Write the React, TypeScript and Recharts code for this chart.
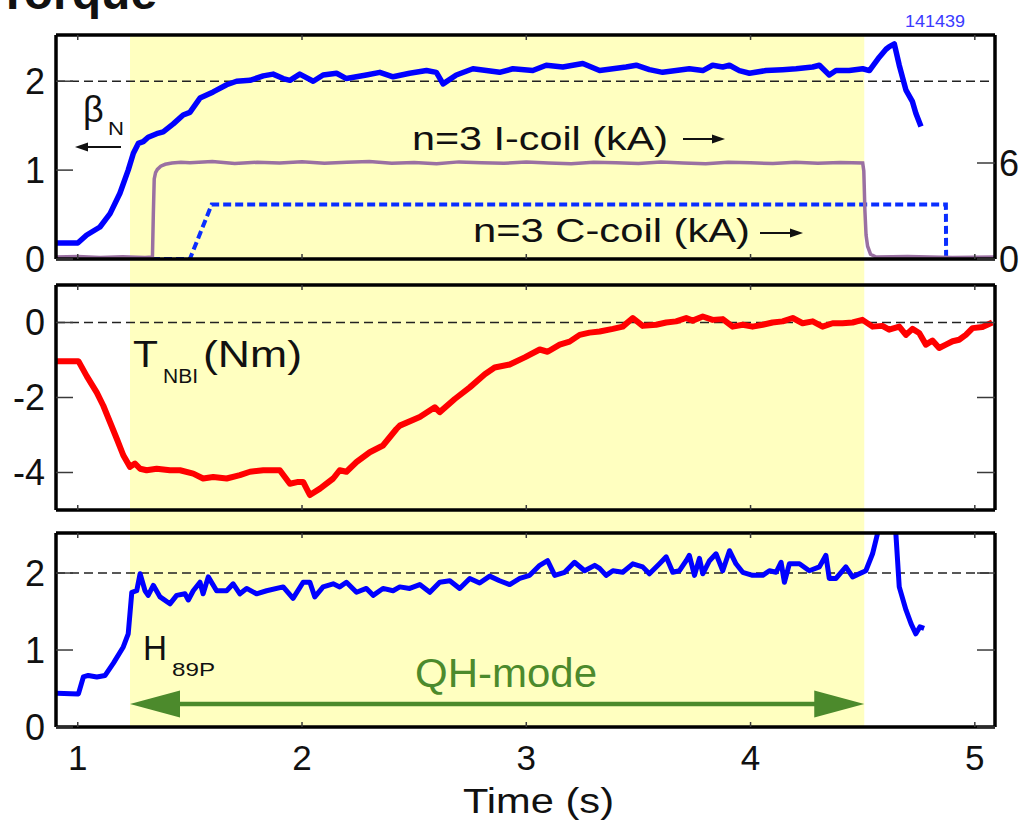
import React from 'react';
import { LineChart, Line, XAxis, YAxis, ReferenceArea, ReferenceLine } from 'recharts';

const W = 1025;
const H = 822;
const FONT = '"Liberation Sans", Arial, Helvetica, sans-serif';
const INK = '#111';
const TICK = '#3a3a3a';
const YELLOW = '#ffffc0';
const GREEN = '#4c8a2c';

type Pt = [number, number];

// time axis (s) and QH-mode window
const timeDomain: [number, number] = [0.903, 5.09];
const timeTicks = [1, 2, 3, 4, 5];
const qhMode: [number, number] = [1.233, 4.507];

// y scales
const betaDomain: [number, number] = [0, 2.52];
const betaTicks = [0, 1, 2];
const coilDomain: [number, number] = [0, 14];
const coilTicks = [0, 6];
const torqueDomain: [number, number] = [-5, 1];
const torqueTicks = [-4, -2, 0];
const hDomain: [number, number] = [0, 2.52];
const hTicks = [0, 1, 2];

// beta_N (left axis, top panel)
const betaN: Pt[] = [
  [0.903, 0.18], [1.0, 0.18], [1.04, 0.27], [1.099, 0.36], [1.144, 0.51], [1.188, 0.74], [1.225, 1.0],
  [1.248, 1.19], [1.27, 1.3], [1.292, 1.32], [1.314, 1.37], [1.352, 1.41], [1.381, 1.43], [1.426, 1.52],
  [1.47, 1.62], [1.5, 1.65], [1.545, 1.81], [1.604, 1.88], [1.664, 1.96], [1.708, 2.0], [1.768, 2.01],
  [1.827, 2.06], [1.871, 2.08], [1.916, 2.03], [1.946, 2.01], [1.99, 2.08], [2.05, 2.0], [2.094, 2.07],
  [2.154, 2.09], [2.198, 2.03], [2.287, 2.07], [2.347, 2.1], [2.406, 2.05], [2.48, 2.09], [2.555, 2.12],
  [2.599, 2.1], [2.629, 1.97], [2.688, 2.07], [2.762, 2.14], [2.822, 2.12], [2.881, 2.1], [2.94, 2.14],
  [3.029, 2.12], [3.089, 2.18], [3.163, 2.16], [3.252, 2.2], [3.327, 2.12], [3.386, 2.14], [3.445, 2.16],
  [3.49, 2.18], [3.549, 2.13], [3.608, 2.1], [3.668, 2.12], [3.727, 2.14], [3.787, 2.12], [3.831, 2.18],
  [3.876, 2.16], [3.906, 2.18], [3.95, 2.12], [3.995, 2.09], [4.069, 2.12], [4.143, 2.13], [4.203, 2.14],
  [4.277, 2.16], [4.307, 2.18], [4.351, 2.07], [4.381, 2.12], [4.41, 2.12], [4.44, 2.12], [4.5, 2.14],
  [4.53, 2.12], [4.574, 2.27], [4.604, 2.36], [4.619, 2.39], [4.641, 2.42], [4.663, 2.18], [4.693, 1.9],
  [4.722, 1.77], [4.737, 1.64], [4.76, 1.49],
];

// n=3 I-coil current, kA (right axis)
const iCoil: Pt[] = [
  [0.903, 0.12], [1.0, 0.15], [1.1, 0.1], [1.2, 0.14], [1.3, 0.1], [1.333, 0.12], [1.337, 2.8],
  [1.341, 5.0], [1.347, 5.4], [1.355, 5.6], [1.37, 5.8], [1.39, 5.92], [1.42, 6.0], [1.46, 6.05],
  [1.5, 6.02], [1.6, 6.1], [1.7, 5.97], [1.8, 6.05], [1.9, 6.0], [2.0, 6.08], [2.1, 5.98], [2.2, 6.04],
  [2.3, 6.1], [2.4, 5.99], [2.5, 6.03], [2.6, 5.96], [2.7, 6.07], [2.8, 6.01], [2.9, 5.98], [3.0, 6.06],
  [3.1, 6.0], [3.2, 5.95], [3.3, 6.05], [3.4, 6.02], [3.5, 5.97], [3.6, 6.06], [3.7, 6.0], [3.8, 5.96],
  [3.9, 6.04], [4.0, 6.01], [4.1, 5.97], [4.2, 6.05], [4.3, 5.99], [4.4, 6.03], [4.5, 6.0], [4.505, 5.5],
  [4.51, 3.0], [4.515, 1.5], [4.522, 0.8], [4.535, 0.3], [4.56, 0.12], [4.7, 0.15], [4.9, 0.1], [5.09, 0.12],
];

// n=3 C-coil current, kA (right axis)
const cCoil: Pt[] = [
  [0.903, 0], [1.5, 0], [1.597, 3.4], [4.871, 3.4], [4.872, 0],
];

// T_NBI, Nm
const torque: Pt[] = [
  [0.906, -1.03], [1.003, -1.03], [1.04, -1.43], [1.085, -1.87], [1.114, -2.22], [1.144, -2.66],
  [1.174, -3.1], [1.203, -3.54], [1.233, -3.85], [1.255, -3.76], [1.278, -3.9], [1.307, -3.94],
  [1.352, -3.9], [1.411, -3.94], [1.456, -3.94], [1.515, -4.03], [1.559, -4.16], [1.604, -4.12],
  [1.664, -4.16], [1.723, -4.07], [1.768, -3.98], [1.827, -3.94], [1.901, -3.94], [1.946, -4.3],
  [1.983, -4.25], [2.005, -4.25], [2.035, -4.6], [2.08, -4.43], [2.139, -4.16], [2.168, -3.94],
  [2.198, -3.98], [2.243, -3.72], [2.302, -3.46], [2.361, -3.28], [2.421, -2.84], [2.436, -2.75],
  [2.525, -2.52], [2.592, -2.26], [2.614, -2.39], [2.681, -2.04], [2.748, -1.73], [2.815, -1.38],
  [2.859, -1.2], [2.926, -1.12], [2.993, -0.93], [3.06, -0.72], [3.095, -0.78], [3.149, -0.59],
  [3.193, -0.51], [3.238, -0.33], [3.282, -0.27], [3.327, -0.24], [3.386, -0.17], [3.43, -0.11],
  [3.475, 0.12], [3.519, -0.09], [3.579, -0.06], [3.624, 0], [3.668, 0.03], [3.713, 0.12], [3.742, 0.05],
  [3.787, 0.16], [3.831, 0.07], [3.876, 0.09], [3.92, -0.11], [3.965, -0.06], [4.009, -0.11],
  [4.054, -0.06], [4.098, 0], [4.143, 0.03], [4.188, 0.12], [4.232, -0.02], [4.277, 0.03], [4.321, -0.11],
  [4.366, -0.02], [4.41, -0.02], [4.455, 0], [4.499, 0.07], [4.544, -0.11], [4.588, -0.09], [4.618, -0.19],
  [4.663, -0.11], [4.693, -0.33], [4.722, -0.17], [4.752, -0.28], [4.782, -0.59], [4.811, -0.48],
  [4.841, -0.68], [4.871, -0.59], [4.901, -0.5], [4.93, -0.46], [4.96, -0.33], [4.99, -0.15],
  [5.034, -0.12], [5.078, 0],
];

// H_89P
const h89p: Pt[] = [
  [0.906, 0.44], [1.003, 0.43], [1.025, 0.65], [1.047, 0.67], [1.085, 0.65], [1.122, 0.67], [1.159, 0.83],
  [1.203, 1.04], [1.225, 1.21], [1.241, 1.75], [1.263, 1.77], [1.278, 1.99], [1.3, 1.77], [1.314, 1.71],
  [1.337, 1.84], [1.367, 1.69], [1.411, 1.6], [1.441, 1.71], [1.478, 1.73], [1.493, 1.65], [1.515, 1.77],
  [1.545, 1.88], [1.559, 1.73], [1.582, 1.95], [1.619, 1.77], [1.664, 1.77], [1.693, 1.86], [1.723, 1.73],
  [1.753, 1.8], [1.797, 1.73], [1.842, 1.77], [1.916, 1.82], [1.96, 1.67], [2.005, 1.88], [2.035, 1.88],
  [2.057, 1.69], [2.094, 1.82], [2.139, 1.86], [2.168, 1.82], [2.198, 1.88], [2.243, 1.75], [2.287, 1.8],
  [2.317, 1.71], [2.361, 1.8], [2.406, 1.77], [2.436, 1.82], [2.48, 1.8], [2.525, 1.85], [2.57, 1.75],
  [2.614, 1.88], [2.659, 1.9], [2.703, 1.8], [2.748, 1.93], [2.792, 1.87], [2.837, 1.96], [2.881, 1.9],
  [2.926, 1.85], [2.971, 1.93], [3.015, 1.97], [3.06, 2.1], [3.095, 2.16], [3.127, 1.97], [3.171, 2.01],
  [3.215, 2.14], [3.26, 2.03], [3.305, 2.1], [3.327, 2.06], [3.356, 1.97], [3.386, 2.03], [3.43, 2.01],
  [3.475, 2.12], [3.519, 2.08], [3.549, 1.99], [3.594, 2.12], [3.624, 2.21], [3.653, 2.01], [3.683, 2.03],
  [3.713, 2.16], [3.727, 2.23], [3.75, 1.97], [3.772, 2.19], [3.787, 1.99], [3.817, 2.16], [3.846, 2.25],
  [3.876, 2.03], [3.906, 2.29], [3.935, 2.12], [3.965, 2.01], [4.009, 1.97], [4.054, 1.97], [4.084, 2.03],
  [4.114, 2.01], [4.136, 2.14], [4.151, 1.88], [4.173, 2.12], [4.218, 2.12], [4.262, 2.03], [4.307, 2.08],
  [4.336, 2.23], [4.351, 1.93], [4.381, 1.93], [4.425, 2.08], [4.455, 1.95], [4.514, 2.03], [4.544, 2.25],
  [4.566, 2.51], [4.6, 2.9], [4.63, 2.9], [4.648, 2.51], [4.663, 1.82], [4.693, 1.52], [4.716, 1.34],
  [4.737, 1.21], [4.755, 1.3], [4.774, 1.28],
];

const rows = (pts: Pt[]) => pts.map(([t, v]) => ({ t, v }));

// plot boxes in page pixels
const PLOT_L = 56;
const PLOT_R = 995;
const P1 = [35, 259];
const P2 = [285, 510];
const P3 = [533, 727];
const XAX_H = 1; // recharts skips axes with zero height

// how far (in data units) the yellow band must run below a panel to reach the next one
const gapUnits = (p: number[], next: number[], d: [number, number]) =>
  ((next[0] - p[1]) * (d[1] - d[0])) / (p[1] - p[0]);

const topTick = (p: any) => (
  <line x1={p.x} x2={p.x} y1={p.y} y2={p.y + 5} stroke={TICK} strokeWidth={1.5} />
);
const bottomTick = (labels: boolean) => (p: any) => (
  <g>
    <line x1={p.x} x2={p.x} y1={p.y} y2={p.y - 5} stroke={TICK} strokeWidth={1.5} />
    {labels && (
      <text x={p.x} y={p.y + 43} textAnchor="middle" fontSize={35} fill={INK}>
        {p.payload.value}
      </text>
    )}
  </g>
);
const leftTick = (labels: boolean) => (p: any) => (
  <g>
    <line x1={p.x} x2={p.x + 17} y1={p.y} y2={p.y} stroke={TICK} strokeWidth={1.5} />
    {labels && (
      <text x={p.x - 11} y={p.y} dy="0.36em" textAnchor="end" fontSize={36} fill={INK}>
        {p.payload.value}
      </text>
    )}
  </g>
);
const rightTick = (labels: boolean) => (p: any) => (
  <g>
    <line x1={p.x - 18} x2={p.x} y1={p.y} y2={p.y} stroke={TICK} strokeWidth={1.5} />
    {labels && (
      <text x={p.x + 4} y={p.y} dy="0.36em" textAnchor="start" fontSize={36} fill={INK}>
        {p.payload.value}
      </text>
    )}
  </g>
);

const QhArrow = (p: any) => {
  const { x1, x2, y1 } = p;
  const len = 50;
  const half = 13.5;
  return (
    <g>
      <line x1={x1 + len - 2} x2={x2 - len + 2} y1={y1} y2={y1} stroke={GREEN} strokeWidth={4.5} />
      <polygon points={`${x1},${y1} ${x1 + len},${y1 - half} ${x1 + len},${y1 + half}`} fill={GREEN} />
      <polygon points={`${x2},${y1} ${x2 - len},${y1 - half} ${x2 - len},${y1 + half}`} fill={GREEN} />
    </g>
  );
};

const Arrow = ({ from, to, y }: { from: number; to: number; y: number }) => {
  const dir = to > from ? 1 : -1;
  const hx = to - dir * 13;
  return (
    <g>
      <line x1={from} x2={hx} y1={y} y2={y} stroke={INK} strokeWidth={2} />
      <polygon points={`${to},${y} ${hx},${y - 4.5} ${hx},${y + 4.5}`} fill={INK} />
    </g>
  );
};

const frame = { stroke: '#000', strokeWidth: 3.5 };
const layer: React.CSSProperties = { position: 'absolute', left: 0, top: 0 };
const marginFor = (p: number[]) => ({ top: p[0] - XAX_H, right: 0, bottom: H - p[1] - XAX_H, left: 0 });

const App = () => {
  const xAxes = (labels: boolean) => [
    <XAxis key="b" xAxisId="b" type="number" dataKey="t" domain={timeDomain} ticks={timeTicks} allowDataOverflow
      height={XAX_H} tickSize={0} tickMargin={0} interval={0} axisLine={frame} tickLine={false} tick={bottomTick(labels)} />,
    <XAxis key="t" xAxisId="t" orientation="top" type="number" dataKey="t" domain={timeDomain} ticks={timeTicks} allowDataOverflow
      height={XAX_H} tickSize={0} tickMargin={0} interval={0} axisLine={frame} tickLine={false} tick={topTick} />,
  ];

  return (
    <div style={{ position: 'absolute', left: 0, top: 0, width: W, height: H, background: '#fff', fontFamily: FONT, overflow: 'hidden' }}>
      {/* top panel: beta_N and coil currents */}
      <div style={layer}>
        <LineChart width={W} height={H} margin={marginFor(P1)}>
          {xAxes(false)}
          <YAxis yAxisId="l" type="number" domain={betaDomain} ticks={betaTicks} allowDataOverflow width={PLOT_L}
            tickSize={0} tickMargin={0} interval={0} axisLine={frame} tickLine={false} tick={leftTick(true)} />
          <YAxis yAxisId="r" orientation="right" type="number" domain={coilDomain} ticks={coilTicks} allowDataOverflow width={W - PLOT_R}
            tickSize={0} tickMargin={0} interval={0} axisLine={frame} tickLine={false} tick={rightTick(true)} />
          <ReferenceArea xAxisId="b" yAxisId="l" x1={qhMode[0]} x2={qhMode[1]}
            y1={-gapUnits(P1, P2, betaDomain)} y2={betaDomain[1]} ifOverflow="visible" fill={YELLOW} fillOpacity={1} stroke="none" />
          <ReferenceLine xAxisId="b" yAxisId="l" y={2} stroke="#222" strokeDasharray="9 5" strokeWidth={1.4} />
          <Line xAxisId="b" yAxisId="r" data={rows(cCoil)} dataKey="v" type="linear" stroke="#0a2eff" strokeWidth={4}
            strokeDasharray="8 4" dot={false} isAnimationActive={false} />
          <Line xAxisId="b" yAxisId="r" data={rows(iCoil)} dataKey="v" type="linear" stroke="#9a70a2" strokeWidth={3.5}
            dot={false} isAnimationActive={false} />
          <Line xAxisId="b" yAxisId="l" data={rows(betaN)} dataKey="v" type="linear" stroke="#0000ff" strokeWidth={5.5}
            strokeLinejoin="round" dot={false} isAnimationActive={false} />
        </LineChart>
      </div>

      {/* middle panel: NBI torque */}
      <div style={layer}>
        <LineChart width={W} height={H} margin={marginFor(P2)}>
          {xAxes(false)}
          <YAxis yAxisId="l" type="number" domain={torqueDomain} ticks={torqueTicks} allowDataOverflow width={PLOT_L}
            tickSize={0} tickMargin={0} interval={0} axisLine={frame} tickLine={false} tick={leftTick(true)} />
          <YAxis yAxisId="r" orientation="right" type="number" domain={torqueDomain} ticks={torqueTicks} allowDataOverflow width={W - PLOT_R}
            tickSize={0} tickMargin={0} interval={0} axisLine={frame} tickLine={false} tick={rightTick(false)} />
          <ReferenceArea xAxisId="b" yAxisId="l" x1={qhMode[0]} x2={qhMode[1]}
            y1={torqueDomain[0] - gapUnits(P2, P3, torqueDomain)} y2={torqueDomain[1]} ifOverflow="visible" fill={YELLOW} fillOpacity={1} stroke="none" />
          <ReferenceLine xAxisId="b" yAxisId="l" y={0} stroke="#222" strokeDasharray="9 5" strokeWidth={1.4} />
          <Line xAxisId="b" yAxisId="l" data={rows(torque)} dataKey="v" type="linear" stroke="#ff0000" strokeWidth={6}
            strokeLinejoin="round" dot={false} isAnimationActive={false} />
        </LineChart>
      </div>

      {/* bottom panel: H_89P */}
      <div style={layer}>
        <LineChart width={W} height={H} margin={marginFor(P3)}>
          {xAxes(true)}
          <YAxis yAxisId="l" type="number" domain={hDomain} ticks={hTicks} allowDataOverflow width={PLOT_L}
            tickSize={0} tickMargin={0} interval={0} axisLine={frame} tickLine={false} tick={leftTick(true)} />
          <YAxis yAxisId="r" orientation="right" type="number" domain={hDomain} ticks={hTicks} allowDataOverflow width={W - PLOT_R}
            tickSize={0} tickMargin={0} interval={0} axisLine={frame} tickLine={false} tick={rightTick(false)} />
          <ReferenceArea xAxisId="b" yAxisId="l" x1={qhMode[0]} x2={qhMode[1]} y1={hDomain[0]} y2={hDomain[1]}
            ifOverflow="visible" fill={YELLOW} fillOpacity={1} stroke="none" />
          <ReferenceLine xAxisId="b" yAxisId="l" y={2} stroke="#222" strokeDasharray="9 5" strokeWidth={1.4} />
          <ReferenceLine xAxisId="b" yAxisId="l" segment={[{ x: qhMode[0], y: 0.3 }, { x: qhMode[1], y: 0.3 }]}
            ifOverflow="visible" shape={QhArrow} />
          <Line xAxisId="b" yAxisId="l" data={rows(h89p)} dataKey="v" type="linear" stroke="#0000ff" strokeWidth={5}
            strokeLinejoin="round" dot={false} isAnimationActive={false} />
        </LineChart>
      </div>

      {/* annotations */}
      <svg width={W} height={H} style={{ ...layer, pointerEvents: 'none' }}>
        <text x={-2} y={9} fontSize={48} fontWeight={700} fill={INK}>Torque</text>
        <text x={905} y={27} fontSize={16} textLength={60} lengthAdjust="spacingAndGlyphs" fill="#3b3bff">141439</text>

        <text x={83} y={122} fontSize={36} fill={INK}>β</text>
        <text x={108} y={135} fontSize={19} textLength={16} lengthAdjust="spacingAndGlyphs" fill={INK}>N</text>
        <Arrow from={121} to={75} y={147} />

        <text x={412} y={150} fontSize={34} textLength={256} lengthAdjust="spacingAndGlyphs" fill={INK}>n=3 I-coil (kA)</text>
        <Arrow from={683} to={725} y={139} />
        <text x={473} y={242} fontSize={34} textLength={277} lengthAdjust="spacingAndGlyphs" fill={INK}>n=3 C-coil (kA)</text>
        <Arrow from={760} to={803} y={233} />

        <text x={133} y={367} fontSize={37} textLength={25} lengthAdjust="spacingAndGlyphs" fill={INK}>T</text>
        <text x={163} y={383} fontSize={20} textLength={35} lengthAdjust="spacingAndGlyphs" fill={INK}>NBI</text>
        <text x={203} y={367} fontSize={37} textLength={99} lengthAdjust="spacingAndGlyphs" fill={INK}>(Nm)</text>

        <text x={143} y={660} fontSize={35} textLength={24} lengthAdjust="spacingAndGlyphs" fill={INK}>H</text>
        <text x={172} y={676} fontSize={19} textLength={43} lengthAdjust="spacingAndGlyphs" fill={INK}>89P</text>
        <text x={415} y={687} fontSize={40} textLength={182} lengthAdjust="spacingAndGlyphs" fill={GREEN}>QH-mode</text>

        <text x={463} y={813} fontSize={35} textLength={151} lengthAdjust="spacingAndGlyphs" fill={INK}>Time (s)</text>
      </svg>
    </div>
  );
};

export default App;
